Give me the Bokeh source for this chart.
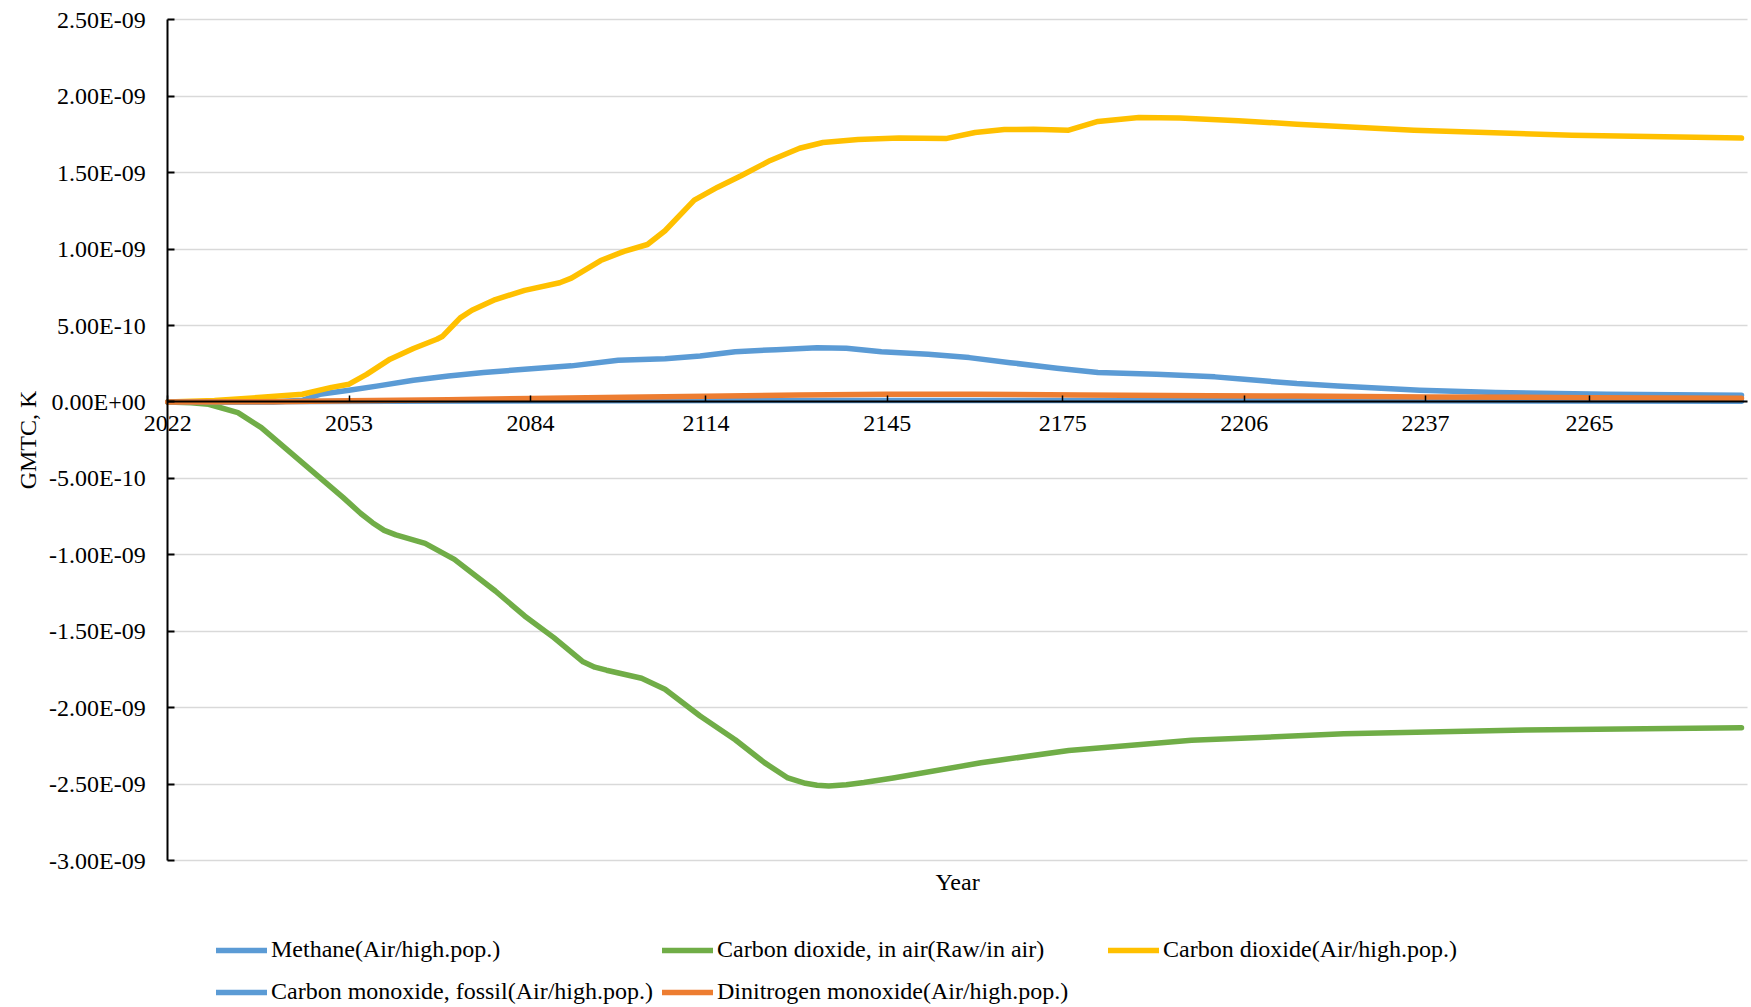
from bokeh.plotting import figure
from bokeh.models import (LinearAxis, FixedTicker, CustomJSTickFormatter, Range1d,
                          Legend, LegendItem, Grid, Label)
from bokeh.embed import file_html
from bokeh.resources import INLINE

# ---------------- data (values in units of 1e-9 K) ----------------
UNIT = 1e-9

methane_years = [2022, 2040, 2045, 2048, 2053, 2058, 2064, 2070, 2076, 2083, 2091, 2099,
                 2107, 2113, 2119, 2126, 2133, 2138, 2144, 2152, 2159, 2166, 2174, 2181,
                 2191, 2201, 2206, 2215, 2222, 2236, 2249, 2268, 2291]
methane_vals = [0.0, 0.0, 0.011, 0.05, 0.077, 0.105, 0.142, 0.17, 0.192, 0.214, 0.236, 0.273,
                0.283, 0.301, 0.329, 0.342, 0.355, 0.351, 0.329, 0.312, 0.29, 0.257, 0.22, 0.192,
                0.181, 0.164, 0.148, 0.12, 0.105, 0.077, 0.061, 0.05, 0.044]

co2_inair_years = [2022, 2026, 2029, 2034, 2038, 2043, 2048, 2052, 2055, 2057, 2059, 2061,
                   2066, 2071, 2078, 2083, 2088, 2093, 2095, 2097, 2103, 2107, 2113, 2119,
                   2124, 2128, 2131, 2133, 2135, 2138, 2141, 2146, 2161, 2176, 2197, 2223,
                   2254, 2291]
co2_inair_vals = [0.0, -0.005, -0.015, -0.07, -0.168, -0.332, -0.495, -0.626, -0.73, -0.79,
                  -0.84, -0.87, -0.925, -1.03, -1.237, -1.40, -1.542, -1.70, -1.735, -1.755,
                  -1.808, -1.88, -2.055, -2.21, -2.36, -2.46, -2.495, -2.508, -2.513, -2.505,
                  -2.49, -2.46, -2.361, -2.28, -2.214, -2.171, -2.147, -2.131]

co2_years = [2022, 2030, 2038, 2045, 2050, 2053, 2056, 2060, 2064, 2068, 2069, 2071, 2072,
             2074, 2078, 2083, 2089, 2091, 2096, 2100, 2104, 2107, 2112, 2116, 2120, 2125,
             2130, 2134, 2140, 2147, 2155, 2160, 2165, 2170, 2176, 2181, 2188, 2195, 2205,
             2215, 2235, 2262, 2291]
co2_vals = [0.0, 0.01, 0.03, 0.05, 0.095, 0.116, 0.18, 0.28, 0.35, 0.41, 0.43, 0.51, 0.55,
            0.60, 0.67, 0.73, 0.78, 0.81, 0.925, 0.985, 1.03, 1.12, 1.32, 1.405, 1.48, 1.58,
            1.66, 1.697, 1.717, 1.726, 1.723, 1.763, 1.782, 1.784, 1.778, 1.835, 1.861, 1.857,
            1.84, 1.817, 1.778, 1.745, 1.726]

co_fossil_years = [2022, 2060, 2100, 2140, 2180, 2230, 2291]
co_fossil_vals = [0.0, 0.004, 0.008, 0.01, 0.009, 0.007, 0.005]

n2o_years = [2022, 2040, 2053, 2070, 2084, 2100, 2114, 2130, 2145, 2160, 2178, 2200, 2215,
             2237, 2265, 2291]
n2o_vals = [0.0, 0.002, 0.007, 0.015, 0.022, 0.03, 0.037, 0.045, 0.05, 0.05, 0.046, 0.041,
            0.039, 0.033, 0.028, 0.024]

series_names = ["Methane(Air/high.pop.)", "Carbon dioxide, in air(Raw/in air)",
                "Carbon dioxide(Air/high.pop.)", "Carbon monoxide, fossil(Air/high.pop.)",
                "Dinitrogen monoxide(Air/high.pop.)"]
series_colors = ["#5B9BD5", "#70AD47", "#FFC000", "#5B9BD5", "#ED7D31"]

x_ticks = [2022, 2053, 2084, 2114, 2145, 2175, 2206, 2237, 2265]
x_bounds = (2022, 2292)
y_ticks = [-3.0e-9, -2.5e-9, -2.0e-9, -1.5e-9, -1.0e-9, -5.0e-10, 0.0,
           5.0e-10, 1.0e-9, 1.5e-9, 2.0e-9, 2.5e-9]
y_tick_labels = ["-3.00E-09", "-2.50E-09", "-2.00E-09", "-1.50E-09", "-1.00E-09", "-5.00E-10",
                 "0.00E+00", "5.00E-10", "1.00E-09", "1.50E-09", "2.00E-09", "2.50E-09"]
x_title = "Year"
y_title = "GMTC, K"

FONT = "Liberation Serif"
FS = "24px"

# The frame fills the whole canvas so that labels outside the plot area are not clipped;
# the visible plot area is set by the axis bounds.
p = figure(width=1751, height=1007,
           x_range=Range1d(1993.42, 2292.71), y_range=Range1d(-3.9617e-9, 2.6263e-9),
           x_axis_location=None, y_axis_location=None,
           output_backend="svg", toolbar_location=None,
           min_border=0, min_border_left=0, min_border_right=0,
           min_border_top=0, min_border_bottom=0)
p.outline_line_color = None
p.background_fill_color = "white"
p.border_fill_color = "white"

# remove any default grids, then add the horizontal grid lines
for g in list(p.grid):
    g.visible = False

grid = Grid(dimension=1, ticker=FixedTicker(ticks=y_ticks), cross_bounds=x_bounds,
            grid_line_color="#D9D9D9", grid_line_width=1.5)
p.add_layout(grid)

# y axis (at x = 2022)
ya = LinearAxis(fixed_location=x_bounds[0], ticker=FixedTicker(ticks=y_ticks),
                bounds=(y_ticks[0], y_ticks[-1]))
ya.formatter = CustomJSTickFormatter(args=dict(tvals=y_ticks, tlabels=y_tick_labels), code="""
for (let i = 0; i < tvals.length; i++) {
  if (Math.abs(tvals[i] - tick) < 1e-13) return tlabels[i];
}
return "";
""")
ya.major_tick_in = 7
ya.major_tick_out = 0
ya.major_tick_line_width = 2
ya.major_tick_line_color = "black"
ya.minor_tick_line_color = None
ya.axis_line_width = 2
ya.axis_line_color = "black"
ya.major_label_text_font = FONT
ya.major_label_text_font_size = FS
ya.major_label_text_color = "black"
ya.major_label_standoff = 22
ya.axis_label = y_title
ya.axis_label_text_font = FONT
ya.axis_label_text_font_size = FS
ya.axis_label_text_font_style = "normal"
ya.axis_label_text_color = "black"
ya.axis_label_standoff = 5
p.add_layout(ya, "left")

# x axis crossing at y = 0
xa = LinearAxis(fixed_location=0, ticker=FixedTicker(ticks=x_ticks), bounds=x_bounds)
xa.major_tick_in = 6
xa.major_tick_out = 0
xa.major_tick_line_width = 1.5
xa.major_tick_line_color = "black"
xa.minor_tick_line_color = None
xa.axis_line_width = 2
xa.axis_line_color = "black"
xa.major_label_text_font = FONT
xa.major_label_text_font_size = FS
xa.major_label_text_color = "black"
xa.major_label_standoff = 14
p.add_layout(xa, "below")

# x axis title at the bottom of the plot area
p.add_layout(Label(x=(x_bounds[0] + x_bounds[1]) / 2, y=-3.1377e-9, text=x_title,
                   text_align="center", text_baseline="middle",
                   text_font=FONT, text_font_size=FS, text_color="black"))

# lines
xs = [methane_years, co2_inair_years, co2_years, co_fossil_years, n2o_years]
ys = [methane_vals, co2_inair_vals, co2_vals, co_fossil_vals, n2o_vals]
renderers = []
for xv, yv, c in zip(xs, ys, series_colors):
    r = p.line([float(v) for v in xv], [v * UNIT for v in yv], line_color=c, line_width=5.5,
               line_cap="round", line_join="round")
    renderers.append(r)

legend = Legend(items=[LegendItem(label=n, renderers=[r]) for n, r in zip(series_names, renderers)],
                location=(216, -2), orientation="horizontal", ncols=3,
                glyph_width=51, glyph_height=20, label_standoff=4,
                label_width=384, label_height=35, spacing=7, padding=0, margin=0,
                border_line_color=None, background_fill_alpha=0,
                label_text_font=FONT, label_text_font_size=FS, label_text_color="black")
p.add_layout(legend, "center")

open("out.html", "w").write(file_html(p, INLINE))
